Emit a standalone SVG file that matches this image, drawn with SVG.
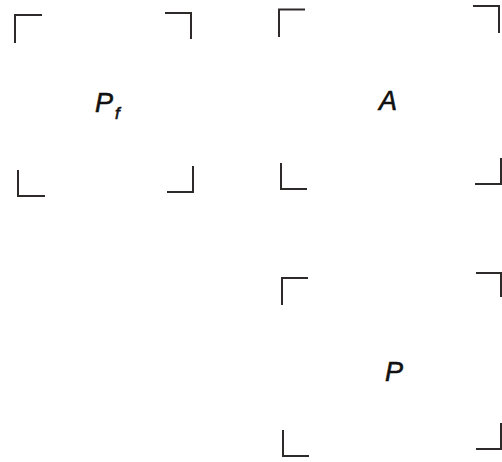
<svg xmlns="http://www.w3.org/2000/svg" width="502" height="462" viewBox="0 0 502 462">
<style>
.br{fill:none;stroke:#2e2a2a;stroke-width:2}
.lb{font-family:"Liberation Sans",Arial,sans-serif;font-style:italic;font-size:27px;fill:#111;stroke:#111;stroke-width:0.6}
.sub{font-size:17px}
</style>
<rect width="502" height="462" fill="#fff"/>
<g id="node-Pf">
<path class="br" d="M15,43 V15 H42"/>
<path class="br" d="M165,13 H191 V39"/>
<path class="br" d="M18,170 V196 H45"/>
<path class="br" d="M167,192 H193 V166"/>
<text class="lb" x="95" y="112">P<tspan class="sub" dy="7" dx="2">f</tspan></text>
</g>
<g id="node-A">
<path class="br" d="M279,37 V9.5 H305"/>
<path class="br" d="M473,6 H499 V33"/>
<path class="br" d="M281,163 V189 H307"/>
<path class="br" d="M475,184 H501 V158"/>
<text class="lb" x="379" y="110">A</text>
</g>
<g id="node-P">
<path class="br" d="M282,305 V278 H308"/>
<path class="br" d="M476,273 H501 V297"/>
<path class="br" d="M283,430 V456 H309"/>
<path class="br" d="M476,449 H501 V423"/>
<text class="lb" x="385" y="381">P</text>
</g>
<g id="connectors"></g>
</svg>
